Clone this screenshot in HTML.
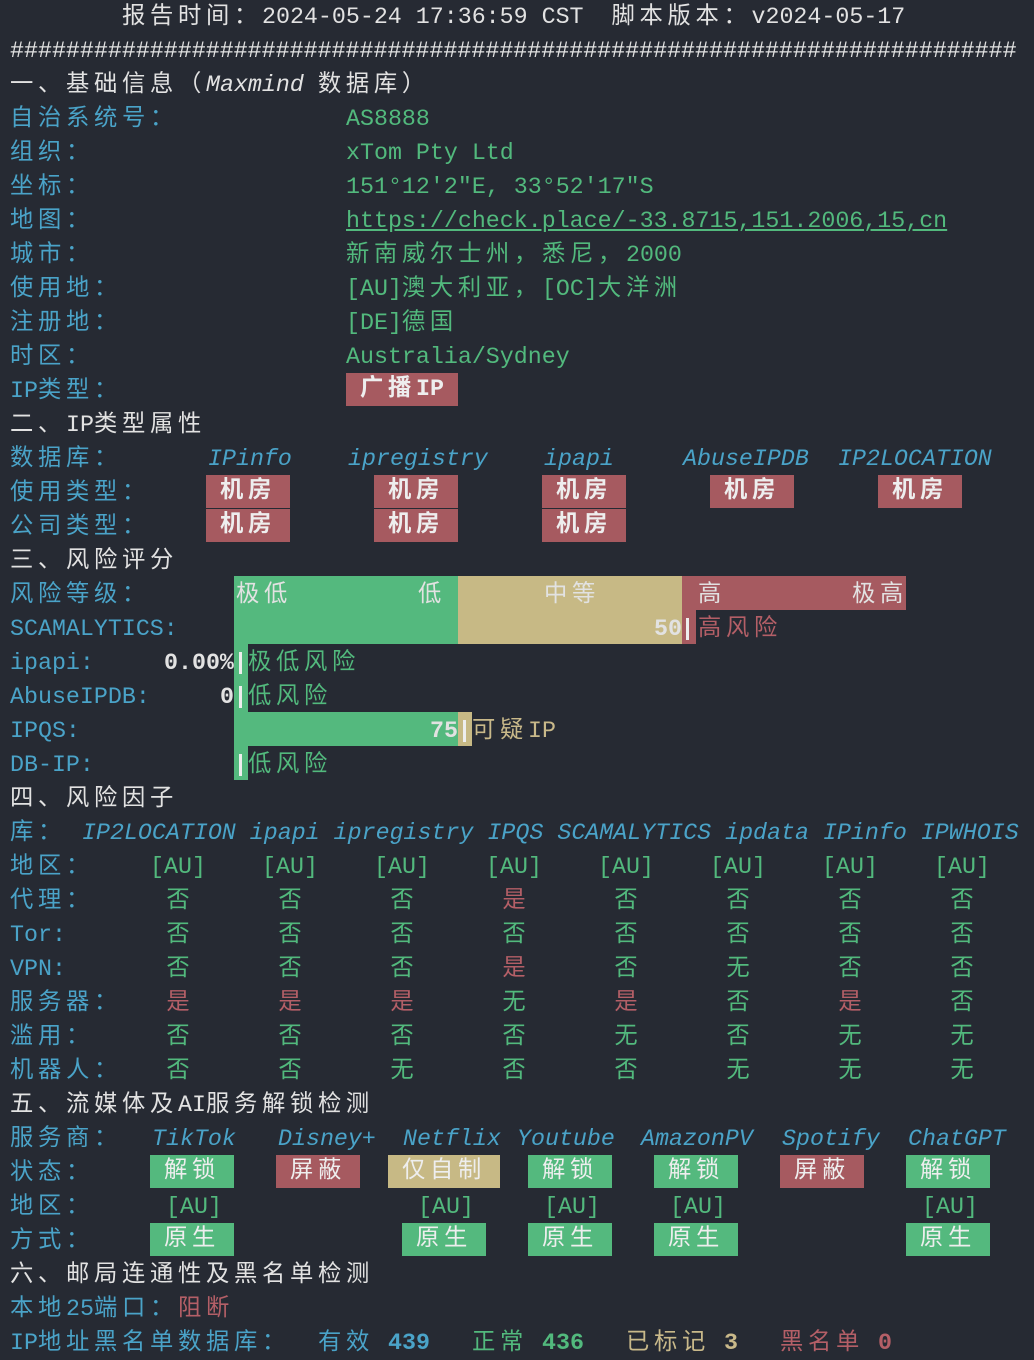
<!DOCTYPE html>
<html><head><meta charset="utf-8"><style>
body{margin:0;background:#262a33;width:1034px;height:1360px;overflow:hidden;position:relative;font-family:"Liberation Mono","Noto Sans CJK SC",monospace;font-size:23.3px;color:#e2e2e2}
.t{position:absolute;white-space:pre;line-height:34px;height:34px;margin-top:1px}
i{font-style:normal;letter-spacing:4.7px}
em{font-style:italic}
.c{color:#4aa3c8}.g{color:#52b97d}.r{color:#b45f67}.y{color:#c9b98a}.w{color:#e2e2e2}
.b{position:absolute}
.bx{position:absolute;height:33px;line-height:33px;text-align:center;color:#eee;white-space:pre}
.R{background:#a65a60}.G{background:#54b97e}.T{background:#c7b985}
.k{font-weight:bold}
.bar{position:absolute;width:3px;height:22px;background:#eee}
.col{position:absolute;width:112px;text-align:center;line-height:34px;height:34px;margin-top:1px}
</style></head><body>
<div class="t" style="left:122px;top:-1px"><i>报告时间：</i>2024-05-24 17:36:59 CST  <i>脚本版本：</i>v2024-05-17</div>
<div class="t" style="left:10px;top:33px">########################################################################</div>
<div class="t" style="left:10px;top:67px"><i>一、基础信息（</i><em>Maxmind <i>数据库</i></em><i>）</i></div>
<div class="t c" style="left:10px;top:101px"><i>自治系统号：</i></div><div class="t g" style="left:346px;top:101px">AS8888</div>
<div class="t c" style="left:10px;top:135px"><i>组织：</i></div><div class="t g" style="left:346px;top:135px">xTom Pty Ltd</div>
<div class="t c" style="left:10px;top:169px"><i>坐标：</i></div><div class="t g" style="left:346px;top:169px">151°12′2″E, 33°52′17″S</div>
<div class="t c" style="left:10px;top:203px"><i>地图：</i></div><div class="t g" style="left:346px;top:203px;text-decoration:underline">https://check.place/-33.8715,151.2006,15,cn</div>
<div class="t c" style="left:10px;top:237px"><i>城市：</i></div><div class="t g" style="left:346px;top:237px"><i>新南威尔士州，悉尼，</i>2000</div>
<div class="t c" style="left:10px;top:271px"><i>使用地：</i></div><div class="t g" style="left:346px;top:271px">[AU]<i>澳大利亚，</i>[OC]<i>大洋洲</i></div>
<div class="t c" style="left:10px;top:305px"><i>注册地：</i></div><div class="t g" style="left:346px;top:305px">[DE]<i>德国</i></div>
<div class="t c" style="left:10px;top:339px"><i>时区：</i></div><div class="t g" style="left:346px;top:339px">Australia/Sydney</div>
<div class="t c" style="left:10px;top:373px">IP<i>类型：</i></div><div class="bx R k" style="left:346px;top:373px;width:112px"><i>广播</i>IP</div>
<div class="t" style="left:10px;top:407px"><i>二、</i>IP<i>类型属性</i></div>
<div class="t c" style="left:10px;top:441px"><i>数据库：</i></div>
<div class="t c" style="top:441px;left:208px"><em>IPinfo</em></div>
<div class="t c" style="top:441px;left:348px"><em>ipregistry</em></div>
<div class="t c" style="top:441px;left:544px"><em>ipapi</em></div>
<div class="t c" style="top:441px;left:683px"><em>AbuseIPDB</em></div>
<div class="t c" style="top:441px;left:838px"><em>IP2LOCATION</em></div>
<div class="t c" style="left:10px;top:475px"><i>使用类型：</i></div>
<div class="t c" style="left:10px;top:509px"><i>公司类型：</i></div>
<div class="bx R k" style="left:206px;top:475px;width:84px"><i>机房</i></div>
<div class="bx R k" style="left:374px;top:475px;width:84px"><i>机房</i></div>
<div class="bx R k" style="left:542px;top:475px;width:84px"><i>机房</i></div>
<div class="bx R k" style="left:710px;top:475px;width:84px"><i>机房</i></div>
<div class="bx R k" style="left:878px;top:475px;width:84px"><i>机房</i></div>
<div class="bx R k" style="left:206px;top:509px;width:84px"><i>机房</i></div>
<div class="bx R k" style="left:374px;top:509px;width:84px"><i>机房</i></div>
<div class="bx R k" style="left:542px;top:509px;width:84px"><i>机房</i></div>
<div class="t" style="left:10px;top:543px"><i>三、风险评分</i></div>
<div class="b G" style="left:234px;top:576px;width:224px;height:68px"></div>
<div class="b T" style="left:458px;top:576px;width:224px;height:68px"></div>
<div class="b R" style="left:682px;top:576px;width:224px;height:34px"></div>
<div class="b R" style="left:682px;top:610px;width:14px;height:34px"></div>
<div class="b G" style="left:234px;top:644px;width:14px;height:68px"></div>
<div class="b G" style="left:234px;top:712px;width:224px;height:34px"></div>
<div class="b T" style="left:458px;top:712px;width:14px;height:34px"></div>
<div class="b G" style="left:234px;top:746px;width:14px;height:34px"></div>
<div class="t c" style="left:10px;top:577px"><i>风险等级：</i></div>
<div class="t w" style="left:236px;top:577px"><em><i>极低</i></em></div>
<div class="t w" style="left:418px;top:577px"><em><i>低</i></em></div>
<div class="t w" style="left:544px;top:577px"><em><i>中等</i></em></div>
<div class="t w" style="left:698px;top:577px"><em><i>高</i></em></div>
<div class="t w" style="left:852px;top:577px"><em><i>极高</i></em></div>
<div class="t c" style="left:10px;top:611px">SCAMALYTICS:</div>
<div class="t w k" style="left:654px;top:611px">50</div><div class="bar" style="left:686px;top:618px"></div>
<div class="t r" style="left:698px;top:611px"><i>高风险</i></div>
<div class="t c" style="left:10px;top:645px">ipapi:</div>
<div class="t w k" style="left:164px;top:645px">0.00%</div><div class="bar" style="left:239px;top:652px"></div>
<div class="t g" style="left:248px;top:645px"><i>极低风险</i></div>
<div class="t c" style="left:10px;top:679px">AbuseIPDB:</div>
<div class="t w k" style="left:220px;top:679px">0</div><div class="bar" style="left:239px;top:686px"></div>
<div class="t g" style="left:248px;top:679px"><i>低风险</i></div>
<div class="t c" style="left:10px;top:713px">IPQS:</div>
<div class="t w k" style="left:430px;top:713px">75</div><div class="bar" style="left:463px;top:720px"></div>
<div class="t y" style="left:472px;top:713px"><i>可疑</i>IP</div>
<div class="t c" style="left:10px;top:747px">DB-IP:</div>
<div class="bar" style="left:239px;top:754px"></div>
<div class="t g" style="left:248px;top:747px"><i>低风险</i></div>
<div class="t" style="left:10px;top:781px"><i>四、风险因子</i></div>
<div class="t c" style="left:10px;top:815px"><i>库：</i></div>
<div class="t c" style="left:82px;top:815px"><em>IP2LOCATION ipapi ipregistry IPQS SCAMALYTICS ipdata IPinfo IPWHOIS</em></div>
<div class="t c" style="left:10px;top:849px"><i>地区：</i></div>
<div class="t c" style="left:10px;top:883px"><i>代理：</i></div>
<div class="t c" style="left:10px;top:917px">Tor:</div>
<div class="t c" style="left:10px;top:951px">VPN:</div>
<div class="t c" style="left:10px;top:985px"><i>服务器：</i></div>
<div class="t c" style="left:10px;top:1019px"><i>滥用：</i></div>
<div class="t c" style="left:10px;top:1053px"><i>机器人：</i></div>
<div class="col g" style="left:122px;top:849px">[AU]</div><div class="col g" style="left:234px;top:849px">[AU]</div><div class="col g" style="left:346px;top:849px">[AU]</div><div class="col g" style="left:458px;top:849px">[AU]</div><div class="col g" style="left:570px;top:849px">[AU]</div><div class="col g" style="left:682px;top:849px">[AU]</div><div class="col g" style="left:794px;top:849px">[AU]</div><div class="col g" style="left:906px;top:849px">[AU]</div>
<div class="col g" style="left:122px;top:883px">否</div><div class="col g" style="left:234px;top:883px">否</div><div class="col g" style="left:346px;top:883px">否</div><div class="col r" style="left:458px;top:883px">是</div><div class="col g" style="left:570px;top:883px">否</div><div class="col g" style="left:682px;top:883px">否</div><div class="col g" style="left:794px;top:883px">否</div><div class="col g" style="left:906px;top:883px">否</div>
<div class="col g" style="left:122px;top:917px">否</div><div class="col g" style="left:234px;top:917px">否</div><div class="col g" style="left:346px;top:917px">否</div><div class="col g" style="left:458px;top:917px">否</div><div class="col g" style="left:570px;top:917px">否</div><div class="col g" style="left:682px;top:917px">否</div><div class="col g" style="left:794px;top:917px">否</div><div class="col g" style="left:906px;top:917px">否</div>
<div class="col g" style="left:122px;top:951px">否</div><div class="col g" style="left:234px;top:951px">否</div><div class="col g" style="left:346px;top:951px">否</div><div class="col r" style="left:458px;top:951px">是</div><div class="col g" style="left:570px;top:951px">否</div><div class="col g" style="left:682px;top:951px">无</div><div class="col g" style="left:794px;top:951px">否</div><div class="col g" style="left:906px;top:951px">否</div>
<div class="col r" style="left:122px;top:985px">是</div><div class="col r" style="left:234px;top:985px">是</div><div class="col r" style="left:346px;top:985px">是</div><div class="col g" style="left:458px;top:985px">无</div><div class="col r" style="left:570px;top:985px">是</div><div class="col g" style="left:682px;top:985px">否</div><div class="col r" style="left:794px;top:985px">是</div><div class="col g" style="left:906px;top:985px">否</div>
<div class="col g" style="left:122px;top:1019px">否</div><div class="col g" style="left:234px;top:1019px">否</div><div class="col g" style="left:346px;top:1019px">否</div><div class="col g" style="left:458px;top:1019px">否</div><div class="col g" style="left:570px;top:1019px">无</div><div class="col g" style="left:682px;top:1019px">否</div><div class="col g" style="left:794px;top:1019px">无</div><div class="col g" style="left:906px;top:1019px">无</div>
<div class="col g" style="left:122px;top:1053px">否</div><div class="col g" style="left:234px;top:1053px">否</div><div class="col g" style="left:346px;top:1053px">无</div><div class="col g" style="left:458px;top:1053px">否</div><div class="col g" style="left:570px;top:1053px">否</div><div class="col g" style="left:682px;top:1053px">无</div><div class="col g" style="left:794px;top:1053px">无</div><div class="col g" style="left:906px;top:1053px">无</div>
<div class="t" style="left:10px;top:1087px"><i>五、流媒体及</i>AI<i>服务解锁检测</i></div>
<div class="t c" style="left:10px;top:1121px"><i>服务商：</i></div>
<div class="t c" style="left:152px;top:1121px"><em>TikTok</em></div>
<div class="t c" style="left:278px;top:1121px"><em>Disney+</em></div>
<div class="t c" style="left:403px;top:1121px"><em>Netflix</em></div>
<div class="t c" style="left:517px;top:1121px"><em>Youtube</em></div>
<div class="t c" style="left:641px;top:1121px"><em>AmazonPV</em></div>
<div class="t c" style="left:782px;top:1121px"><em>Spotify</em></div>
<div class="t c" style="left:908px;top:1121px"><em>ChatGPT</em></div>
<div class="t c" style="left:10px;top:1155px"><i>状态：</i></div>
<div class="bx G" style="left:150px;top:1155px;width:84px"><i>解锁</i></div>
<div class="bx R" style="left:276px;top:1155px;width:84px"><i>屏蔽</i></div>
<div class="bx T" style="left:388px;top:1155px;width:112px"><i>仅自制</i></div>
<div class="bx G" style="left:528px;top:1155px;width:84px"><i>解锁</i></div>
<div class="bx G" style="left:654px;top:1155px;width:84px"><i>解锁</i></div>
<div class="bx R" style="left:780px;top:1155px;width:84px"><i>屏蔽</i></div>
<div class="bx G" style="left:906px;top:1155px;width:84px"><i>解锁</i></div>
<div class="t c" style="left:10px;top:1189px"><i>地区：</i></div>
<div class="t g" style="left:166px;top:1189px">[AU]</div>
<div class="t g" style="left:418px;top:1189px">[AU]</div>
<div class="t g" style="left:544px;top:1189px">[AU]</div>
<div class="t g" style="left:670px;top:1189px">[AU]</div>
<div class="t g" style="left:922px;top:1189px">[AU]</div>
<div class="t c" style="left:10px;top:1223px"><i>方式：</i></div>
<div class="bx G" style="left:150px;top:1223px;width:84px"><i>原生</i></div>
<div class="bx G" style="left:402px;top:1223px;width:84px"><i>原生</i></div>
<div class="bx G" style="left:528px;top:1223px;width:84px"><i>原生</i></div>
<div class="bx G" style="left:654px;top:1223px;width:84px"><i>原生</i></div>
<div class="bx G" style="left:906px;top:1223px;width:84px"><i>原生</i></div>
<div class="t" style="left:10px;top:1257px"><i>六、邮局连通性及黑名单检测</i></div>
<div class="t c" style="left:10px;top:1291px"><i>本地</i>25<i>端口：</i></div>
<div class="t r" style="left:178px;top:1291px"><i>阻断</i></div>
<div class="t c" style="left:10px;top:1325px">IP<i>地址黑名单数据库：</i></div>
<div class="t c" style="left:318px;top:1325px"><i>有效</i></div><div class="t c k" style="left:388px;top:1325px">439</div>
<div class="t g" style="left:472px;top:1325px"><i>正常</i></div><div class="t g k" style="left:542px;top:1325px">436</div>
<div class="t y" style="left:626px;top:1325px"><i>已标记</i></div><div class="t y k" style="left:724px;top:1325px">3</div>
<div class="t r" style="left:780px;top:1325px"><i>黑名单</i></div><div class="t r k" style="left:878px;top:1325px">0</div>
</body></html>
